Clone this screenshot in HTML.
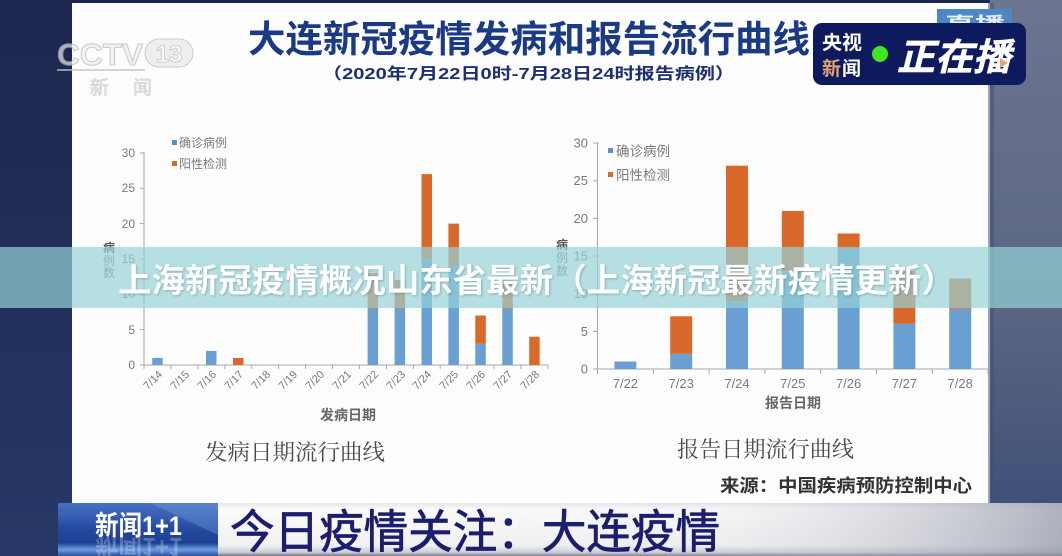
<!DOCTYPE html>
<html><head><meta charset="utf-8">
<style>
html,body{margin:0;padding:0;width:1062px;height:556px;overflow:hidden;background:#1f2b53;}
svg{display:block}
</style></head><body>
<svg width="1062" height="556" viewBox="0 0 1062 556" xmlns="http://www.w3.org/2000/svg" font-family="'Liberation Sans','Noto Sans CJK SC',sans-serif">
<defs>
 <linearGradient id="lbg" x1="0" y1="0" x2="0" y2="1"><stop offset="0" stop-color="#1b274e"/><stop offset="1" stop-color="#273866"/></linearGradient>
 <linearGradient id="rbg" x1="0" y1="0" x2="0" y2="1"><stop offset="0" stop-color="#6c7592"/><stop offset="0.55" stop-color="#5a6683"/><stop offset="1" stop-color="#3a4a74"/></linearGradient>
 <linearGradient id="barv" x1="0" y1="0" x2="0" y2="1"><stop offset="0" stop-color="#e6e7ea"/><stop offset="0.12" stop-color="#fbfbfb"/><stop offset="0.8" stop-color="#f1f1f3"/><stop offset="0.93" stop-color="#c9cbd2"/><stop offset="1" stop-color="#6e7284"/></linearGradient>
 <linearGradient id="barh" x1="0" y1="0" x2="1" y2="0"><stop offset="0" stop-color="#ffffff" stop-opacity="0"/><stop offset="0.6" stop-color="#d8dae0" stop-opacity="0.2"/><stop offset="1" stop-color="#8e93a3" stop-opacity="0.7"/></linearGradient>
 <linearGradient id="nbox" x1="0" y1="0" x2="0" y2="1"><stop offset="0" stop-color="#4a70c0"/><stop offset="0.5" stop-color="#2449a1"/><stop offset="0.75" stop-color="#1d3f92"/><stop offset="0.88" stop-color="#6a9ee0"/><stop offset="1" stop-color="#2b4f9e"/></linearGradient>
</defs>

<!-- backgrounds -->
<rect width="1062" height="556" fill="url(#lbg)"/>
<rect x="990" y="0" width="72" height="556" fill="url(#rbg)"/>
<rect x="72" y="3" width="918" height="500" fill="#fdfdfd"/>
<rect x="988" y="3" width="6" height="500" fill="#3f4d75" opacity="0.5"/>

<!-- CCTV logo -->
<g opacity="0.7">
 <text x="57" y="65" font-size="31" font-weight="bold" fill="#eeeeee" stroke="#b4b4b4" stroke-width="1" textLength="86" lengthAdjust="spacingAndGlyphs">CCTV</text>
 <rect x="145" y="39" width="48" height="28" rx="14" fill="#e8e8e8" stroke="#b8b8b8" stroke-width="1"/>
 <text x="169" y="62" font-size="24" font-weight="bold" fill="#f8f8f8" stroke="#b0b0b0" stroke-width="0.8" text-anchor="middle">13</text>
 <rect x="57" y="69" width="88" height="2" fill="#c4c4c4"/>
 <text x="90" y="94" font-size="19" fill="#d6d6d6" stroke="#b8b8b8" stroke-width="0.5">新</text>
 <text x="133" y="94" font-size="19" fill="#d6d6d6" stroke="#b8b8b8" stroke-width="0.5">闻</text>
</g>

<!-- Title -->
<text x="248" y="52" font-size="37" font-weight="bold" fill="#1b3a86" textLength="562" lengthAdjust="spacingAndGlyphs">大连新冠疫情发病和报告流行曲线</text>
<text x="322" y="79" font-size="16" font-weight="bold" fill="#1d2f6e" textLength="413" lengthAdjust="spacingAndGlyphs">（2020年7月22日0时-7月28日24时报告病例）</text>

<!-- LEFT CHART -->
<g fill="#7a7a7a" font-size="12" text-anchor="end">
 <text x="135" y="369">0</text>
 <text x="135" y="334">5</text>
 <text x="135" y="298">10</text>
 <text x="135" y="263">15</text>
 <text x="135" y="228">20</text>
 <text x="135" y="192">25</text>
 <text x="135" y="157">30</text>
</g>
<g stroke="#a8a8a8" stroke-width="1">
 <line x1="144" y1="152" x2="144" y2="365"/>
 <line x1="144" y1="365" x2="548" y2="365"/>
 <line x1="140" y1="365" x2="144" y2="365"/><line x1="140" y1="329.6" x2="144" y2="329.6"/>
 <line x1="140" y1="294.3" x2="144" y2="294.3"/><line x1="140" y1="259" x2="144" y2="259"/>
 <line x1="140" y1="223.6" x2="144" y2="223.6"/><line x1="140" y1="188.3" x2="144" y2="188.3"/>
 <line x1="140" y1="153" x2="144" y2="153"/>
 <line x1="144" y1="365" x2="144" y2="369"/><line x1="170.9" y1="365" x2="170.9" y2="369"/>
 <line x1="197.9" y1="365" x2="197.9" y2="369"/><line x1="224.8" y1="365" x2="224.8" y2="369"/>
 <line x1="251.7" y1="365" x2="251.7" y2="369"/><line x1="278.7" y1="365" x2="278.7" y2="369"/>
 <line x1="305.6" y1="365" x2="305.6" y2="369"/><line x1="332.5" y1="365" x2="332.5" y2="369"/>
 <line x1="359.4" y1="365" x2="359.4" y2="369"/><line x1="386.4" y1="365" x2="386.4" y2="369"/>
 <line x1="413.3" y1="365" x2="413.3" y2="369"/><line x1="440.2" y1="365" x2="440.2" y2="369"/>
 <line x1="467.2" y1="365" x2="467.2" y2="369"/><line x1="494.1" y1="365" x2="494.1" y2="369"/>
 <line x1="521" y1="365" x2="521" y2="369"/><line x1="548" y1="365" x2="548" y2="369"/>
</g>
<!-- left bars -->
<g fill="#6a9fd3">
 <rect x="152.2" y="357.9" width="10.5" height="7.1"/>
 <rect x="206" y="350.9" width="10.5" height="14.1"/>
 <rect x="367.6" y="308.4" width="10.5" height="56.6"/>
 <rect x="394.6" y="308.4" width="10.5" height="56.6"/>
 <rect x="421.5" y="258.9" width="10.5" height="106.1"/>
 <rect x="448.4" y="266" width="10.5" height="99"/>
 <rect x="475.3" y="343.8" width="10.5" height="21.2"/>
 <rect x="502.3" y="308.4" width="10.5" height="56.6"/>
</g>
<g fill="#d9692a">
 <rect x="233" y="357.9" width="10.5" height="7.1"/>
 <rect x="367.6" y="273.1" width="10.5" height="35.3"/>
 <rect x="394.6" y="280.1" width="10.5" height="28.3"/>
 <rect x="421.5" y="174.1" width="10.5" height="84.8"/>
 <rect x="448.4" y="223.6" width="10.5" height="42.4"/>
 <rect x="475.3" y="315.5" width="10.5" height="28.3"/>
 <rect x="502.3" y="280.1" width="10.5" height="28.3"/>
 <rect x="529.2" y="336.7" width="10.5" height="28.3"/>
</g>
<!-- left x labels -->
<g fill="#7a7a7a" font-size="11" text-anchor="end">
 <text transform="translate(163,375) rotate(-45)">7/14</text>
 <text transform="translate(190,375) rotate(-45)">7/15</text>
 <text transform="translate(217,375) rotate(-45)">7/16</text>
 <text transform="translate(244,375) rotate(-45)">7/17</text>
 <text transform="translate(271,375) rotate(-45)">7/18</text>
 <text transform="translate(298,375) rotate(-45)">7/19</text>
 <text transform="translate(325,375) rotate(-45)">7/20</text>
 <text transform="translate(352,375) rotate(-45)">7/21</text>
 <text transform="translate(379,375) rotate(-45)">7/22</text>
 <text transform="translate(406,375) rotate(-45)">7/23</text>
 <text transform="translate(432,375) rotate(-45)">7/24</text>
 <text transform="translate(459,375) rotate(-45)">7/25</text>
 <text transform="translate(486,375) rotate(-45)">7/26</text>
 <text transform="translate(513,375) rotate(-45)">7/27</text>
 <text transform="translate(540,375) rotate(-45)">7/28</text>
</g>
<text x="348" y="420" font-size="14" font-weight="bold" fill="#666" text-anchor="middle">发病日期</text>
<g font-size="12" fill="#777" text-anchor="middle">
 <text x="109" y="252" font-weight="bold" fill="#555">病</text>
 <text x="109" y="265">例</text>
 <text x="109" y="277">数</text>
</g>
<rect x="172" y="140" width="5" height="5" fill="#5b8fcb"/>
<text x="179" y="147" font-size="12" fill="#7a7a7a">确诊病例</text>
<rect x="172" y="161" width="5" height="5" fill="#d9692a"/>
<text x="179" y="168" font-size="12" fill="#7a7a7a">阳性检测</text>

<!-- RIGHT CHART -->
<g fill="#7a7a7a" font-size="13" text-anchor="end">
 <text x="588" y="373.5">0</text>
 <text x="588" y="336">5</text>
 <text x="588" y="298">10</text>
 <text x="588" y="260.5">15</text>
 <text x="588" y="223">20</text>
 <text x="588" y="185">25</text>
 <text x="588" y="147.5">30</text>
</g>
<g stroke="#a8a8a8" stroke-width="1">
 <line x1="597.5" y1="142" x2="597.5" y2="369"/>
 <line x1="597.5" y1="369" x2="988" y2="369"/>
 <line x1="593" y1="369" x2="597.5" y2="369"/><line x1="593" y1="331.4" x2="597.5" y2="331.4"/>
 <line x1="593" y1="293.7" x2="597.5" y2="293.7"/><line x1="593" y1="256" x2="597.5" y2="256"/>
 <line x1="593" y1="218.4" x2="597.5" y2="218.4"/><line x1="593" y1="180.8" x2="597.5" y2="180.8"/>
 <line x1="593" y1="143.1" x2="597.5" y2="143.1"/>
 <line x1="597.5" y1="369" x2="597.5" y2="374"/><line x1="653.3" y1="369" x2="653.3" y2="374"/>
 <line x1="709.1" y1="369" x2="709.1" y2="374"/><line x1="764.9" y1="369" x2="764.9" y2="374"/>
 <line x1="820.7" y1="369" x2="820.7" y2="374"/><line x1="876.5" y1="369" x2="876.5" y2="374"/>
 <line x1="932.3" y1="369" x2="932.3" y2="374"/><line x1="988" y1="369" x2="988" y2="374"/>
</g>
<g fill="#6a9fd3">
 <rect x="614.4" y="361.5" width="22" height="7.5"/>
 <rect x="670.2" y="353.9" width="22" height="15.1"/>
 <rect x="726" y="301.2" width="22" height="67.8"/>
 <rect x="781.8" y="271.1" width="22" height="97.9"/>
 <rect x="837.6" y="248.5" width="22" height="120.5"/>
 <rect x="893.4" y="323.8" width="22" height="45.2"/>
 <rect x="949.2" y="308.8" width="22" height="60.2"/>
</g>
<g fill="#d9692a">
 <rect x="670.2" y="316.3" width="22" height="37.6"/>
 <rect x="726" y="165.7" width="22" height="135.5"/>
 <rect x="781.8" y="210.9" width="22" height="60.2"/>
 <rect x="837.6" y="233.5" width="22" height="15"/>
 <rect x="893.4" y="271.1" width="22" height="52.7"/>
 <rect x="949.2" y="278.6" width="22" height="30.2"/>
</g>
<g fill="#7a7a7a" font-size="13" text-anchor="middle">
 <text x="625.4" y="388">7/22</text>
 <text x="681.2" y="388">7/23</text>
 <text x="737" y="388">7/24</text>
 <text x="792.8" y="388">7/25</text>
 <text x="848.6" y="388">7/26</text>
 <text x="904.4" y="388">7/27</text>
 <text x="960.2" y="388">7/28</text>
</g>
<text x="793" y="408" font-size="14" font-weight="bold" fill="#666" text-anchor="middle">报告日期</text>
<g font-size="12" fill="#777" text-anchor="middle">
 <text x="562" y="249" font-weight="bold" fill="#555">病</text>
 <text x="562" y="262">例</text>
 <text x="562" y="275">数</text>
</g>
<rect x="608" y="148" width="5" height="5" fill="#5b8fcb"/>
<text x="616" y="156" font-size="13.5" fill="#7a7a7a">确诊病例</text>
<rect x="608" y="172" width="5" height="5" fill="#d9692a"/>
<text x="616" y="180" font-size="13.5" fill="#7a7a7a">阳性检测</text>

<!-- captions -->
<text x="205" y="460" font-family="'Liberation Serif','Noto Serif CJK SC',serif" font-size="22" fill="#4a4a4a" textLength="180" lengthAdjust="spacingAndGlyphs">发病日期流行曲线</text>
<text x="677" y="457" font-family="'Liberation Serif','Noto Serif CJK SC',serif" font-size="22" fill="#4a4a4a" textLength="177" lengthAdjust="spacingAndGlyphs">报告日期流行曲线</text>
<text x="720" y="492" font-size="18" font-weight="bold" fill="#333" textLength="252" lengthAdjust="spacingAndGlyphs">来源：中国疾病预防控制中心</text>

<!-- live badge -->
<rect x="937" y="9" width="75" height="24" fill="#4f86c6"/>
<text x="975" y="30" font-size="18" font-weight="bold" fill="#e8f0fa" text-anchor="middle" textLength="60" lengthAdjust="spacingAndGlyphs">直播</text>
<rect x="813" y="23" width="213" height="62" rx="9" fill="#0e1a5e"/>
<text x="822" y="49" font-size="19" font-weight="bold" fill="#ffffff" textLength="40" lengthAdjust="spacingAndGlyphs">央视</text>
<text x="822" y="75" font-size="19" font-weight="bold" fill="#e8a672">新</text>
<text x="842" y="75" font-size="19" font-weight="bold" fill="#ffffff">闻</text>
<circle cx="880" cy="54" r="8" fill="#3fe51e"/>
<text x="0" y="0" transform="translate(897,70) skewX(-14)" font-size="37" font-weight="bold" fill="#ffffff" stroke="#ffffff" stroke-width="0.6" textLength="114" lengthAdjust="spacingAndGlyphs">正在播</text>
<polygon points="1000,58 1008,63 1000,68" fill="#e8a672"/>

<!-- overlay band -->
<rect x="0" y="247" width="1062" height="61" fill="rgb(150,210,215)" fill-opacity="0.7"/>
<text x="118" y="292" font-size="33" font-weight="bold" fill="#ffffff" textLength="837" lengthAdjust="spacingAndGlyphs" style="text-shadow:1px 1px 2px rgba(60,90,100,0.35)">上海新冠疫情概况山东省最新（上海新冠最新疫情更新）</text>

<!-- bottom bar -->
<rect x="58" y="503" width="1004" height="53" fill="url(#barv)"/>
<rect x="218" y="503" width="844" height="53" fill="url(#barh)"/>
<rect x="58" y="503" width="160" height="53" fill="url(#nbox)"/>
<polygon points="150,503 218,503 218,535" fill="#7aa6e6" opacity="0.35"/>
<text x="95" y="535" font-size="27" font-weight="bold" fill="#ffffff" textLength="87" lengthAdjust="spacingAndGlyphs">新闻1+1</text>
<text x="95" y="540" font-size="27" font-weight="bold" fill="#ffffff" opacity="0.25" transform="translate(0,1078) scale(1,-1)" textLength="87" lengthAdjust="spacingAndGlyphs">新闻1+1</text>
<text x="230" y="548" font-size="46" fill="#1b1e6c" stroke="#1b1e6c" stroke-width="0.8" textLength="490" lengthAdjust="spacingAndGlyphs">今日疫情关注：大连疫情</text>
</svg>
</body></html>
